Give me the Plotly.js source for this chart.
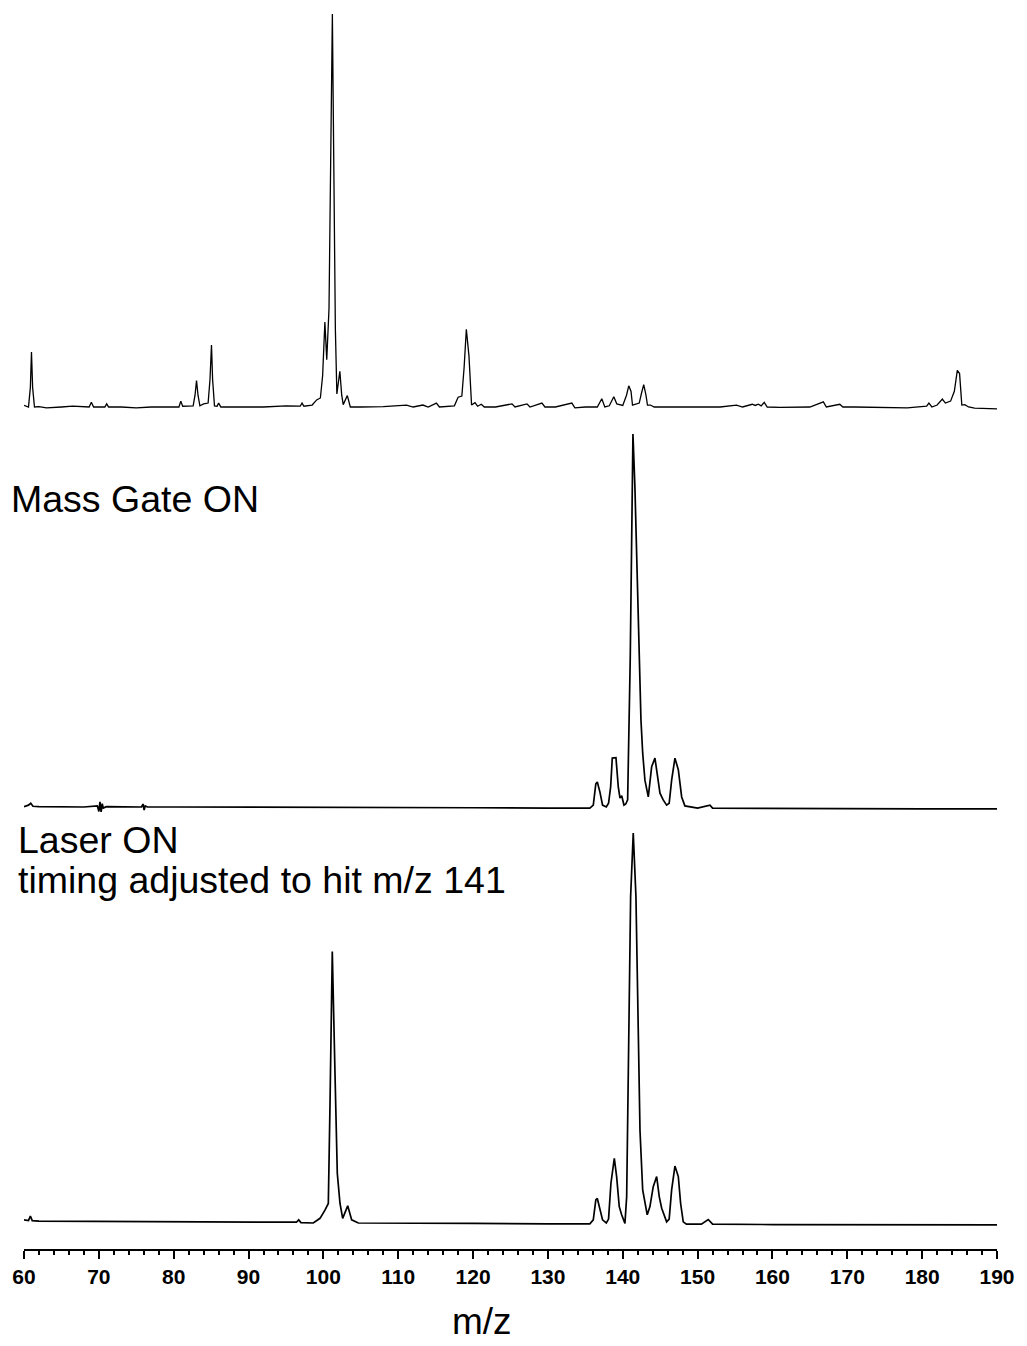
<!DOCTYPE html>
<html>
<head>
<meta charset="utf-8">
<script src="https://cdn.plot.ly/plotly-3.0.1.min.js"></script>
<style>
  html, body { margin: 0; padding: 0; background: #fff; }
  #chart { width: 1027px; height: 1346px; }
</style>
</head>
<body>
<div id="chart"></div>
<script>
// ---------------- DATA ----------------
// Spectrum 1 (top): no gate, relative intensity (m/z 101 = 100)
const topMz = [60.0, 60.6, 60.85, 61.0, 61.15, 61.4, 62.0, 63.0, 65.0, 66.5, 68.7, 69.0, 69.3, 70.8, 71.05, 71.3, 73.0, 75.0, 77.0, 79.0,
  80.7, 80.95, 81.2, 82.6, 82.85, 83.05, 83.25, 83.5, 84.0, 84.6, 84.85, 85.05, 85.2, 85.45, 85.8, 86.0, 86.3, 88.0, 92.0, 95.0,
  96.9, 97.15, 97.4, 98.5, 99.1, 99.6, 99.9, 100.2, 100.45, 100.75, 101.0, 101.2, 101.4, 101.6, 101.8, 102.2, 102.45, 102.65, 103.2, 103.6,
  105.0, 108.0, 111.1, 112.0, 113.3, 114.0, 115.1, 115.5, 117.5, 118.0, 118.5, 118.8, 119.1, 119.45, 119.8, 120.25, 120.6, 121.1, 121.5, 123.0,
  125.2, 125.6, 127.2, 127.6, 129.2, 129.6, 131.0, 133.2, 133.6, 135.0, 136.6, 137.2, 137.6, 138.2, 138.8, 139.2, 140.0, 140.5, 140.8, 141.1,
  141.3, 141.7, 142.2, 142.5, 142.8, 143.1, 143.3, 143.7, 144.2, 146.0, 150.0, 153.0, 155.2, 156.0, 157.3, 157.7, 158.1, 158.5, 158.9, 159.3,
  161.0, 163.0, 165.0, 166.8, 167.2, 169.0, 169.4, 171.0, 175.0, 178.0, 180.6, 180.9, 181.3, 182.0, 182.7, 183.1, 183.8, 184.3, 184.7, 185.0,
  185.3, 185.7, 186.2, 187.0, 190.0];
const topInt = [0.4, 0.0, 5.0, 14.0, 5.0, 0.0, 0.1, -0.2, 0.0, 0.2, 0.0, 1.2, 0.0, 0.0, 0.8, 0.0, 0.0, -0.2, 0.0, 0.0,
  0.0, 1.5, 0.2, 0.3, 3.0, 6.7, 3.0, 0.3, 0.8, 1.0, 7.0, 15.8, 7.0, 0.3, 0.2, 1.0, 0.0, 0.0, 0.0, 0.3,
  0.2, 1.0, 0.2, 0.5, 1.8, 2.3, 8.0, 21.6, 12.0, 25.0, 70.0, 100.0, 60.0, 20.0, 3.3, 9.1, 3.0, 0.6, 2.9, 0.0,
  0.0, 0.1, 0.5, 0.0, 0.5, 0.0, 1.0, 0.0, 0.3, 2.5, 2.8, 10.0, 19.8, 13.0, 0.5, 1.1, 0.2, 0.7, 0.0, 0.0,
  0.8, 0.0, 0.8, 0.0, 1.0, 0.0, 0.0, 1.0, -0.2, 0.0, 0.0, 2.1, 0.0, 0.3, 2.6, 0.8, 0.4, 3.0, 5.4, 4.0,
  0.5, 0.8, 1.0, 3.5, 5.7, 3.0, 0.5, 0.5, 0.0, 0.0, -0.1, 0.0, 0.5, 0.0, 0.7, 0.4, 0.7, 0.3, 1.2, 0.0,
  -0.1, 0.0, 0.0, 1.3, 0.0, 0.7, 0.0, 0.0, -0.2, -0.2, 0.2, 1.0, 0.0, 0.5, 2.0, 1.0, 1.5, 4.0, 9.3, 8.5,
  0.5, 0.6, 0.0, -0.3, -0.5];

// Spectrum 2 (middle): Mass Gate ON (m/z 141 = 100)
const gateMz = [60.0, 60.6, 60.9, 61.2, 62.0, 65.0, 68.0, 69.8, 70.0, 70.15, 70.3, 70.45, 70.6, 71.0, 73.0, 75.7, 75.9, 76.05, 76.2, 76.5,
  80.0, 90.0, 100.0, 110.0, 120.0, 130.0, 135.6, 136.06, 136.4, 136.6, 136.95, 137.3, 137.8, 138.1, 138.38, 138.6, 139.09, 139.4, 139.63, 139.86,
  140.16, 140.4, 140.65, 141.0, 141.2, 141.36, 141.62, 141.85, 142.1, 142.3, 142.43, 142.66, 142.96, 143.41, 143.86, 144.3, 144.6, 144.97, 145.4, 145.86,
  146.2, 146.53, 146.97, 147.42, 147.87, 148.3, 150.0, 151.65, 152.0, 160.0, 170.0, 180.0, 190.0];
const gateInt = [0.1, 0.5, 1.0, 0.2, 0.1, 0.0, 0.0, 0.3, -1.2, 1.4, -1.3, 0.9, -0.3, 0.1, 0.0, 0.0, 0.8, -0.8, 0.3, 0.0,
  0.0, 0.0, -0.1, -0.2, -0.2, -0.3, -0.3, 0.5, 6.2, 6.7, 4.0, 0.5, 0.0, 1.0, 5.4, 13.1, 13.2, 5.4, 2.4, 3.0,
  0.5, 0.8, 1.9, 40.0, 85.0, 100.0, 86.0, 68.0, 50.0, 39.4, 23.3, 14.5, 7.2, 2.7, 10.8, 13.1, 9.0, 3.7, 1.9, 0.5,
  1.0, 7.2, 13.1, 10.0, 2.7, 0.3, -0.3, 0.5, -0.3, -0.4, -0.4, -0.5, -0.5];

// Spectrum 3 (bottom): Laser ON, timing adjusted to hit m/z 141 (m/z 141 = 100)
const laserMz = [60.0, 60.6, 60.85, 61.1, 62.0, 70.0, 80.0, 90.0, 96.4, 96.7, 97.0, 98.65, 99.55, 100.21, 100.66, 100.88, 101.19, 101.55, 101.86, 102.22,
  102.58, 103.25, 103.78, 104.67, 110.0, 120.0, 130.0, 135.6, 136.06, 136.4, 136.6, 136.95, 137.3, 137.8, 138.1, 138.42, 138.6, 138.87, 139.18, 139.53,
  139.85, 140.29, 140.52, 140.74, 141.05, 141.4, 141.76, 142.07, 142.3, 142.66, 143.27, 143.63, 144.07, 144.53, 144.88, 145.2, 145.86, 146.2, 146.53, 146.97,
  147.42, 147.73, 148.08, 148.5, 150.5, 151.42, 152.0, 160.0, 170.0, 180.0, 190.0];
const laserInt = [0.8, 0.6, 1.8, 0.6, 0.5, 0.4, 0.3, 0.2, 0.2, 0.8, 0.1, 0.0, 1.2, 3.3, 5.0, 29.8, 69.6, 38.4, 12.7, 5.0,
  1.2, 4.4, 0.8, 0.0, -0.1, -0.1, -0.2, -0.2, 0.8, 5.9, 6.3, 3.3, 0.8, 0.0, 1.0, 10.2, 12.7, 16.6, 11.9, 4.2,
  2.1, -0.1, 6.7, 41.0, 83.7, 100.0, 83.7, 49.5, 23.8, 8.5, 2.1, 4.2, 9.3, 11.9, 6.7, 3.8, 0.3, 1.0, 8.5, 14.6,
  11.9, 5.0, 0.3, -0.3, -0.3, 0.9, -0.3, -0.4, -0.4, -0.5, -0.5];

const xTickVals = [60, 70, 80, 90, 100, 110, 120, 130, 140, 150, 160, 170, 180, 190];
const panelLabels = ["Mass Gate ON", "Laser ON", "timing adjusted to hit m/z 141"];
const xTitle = "m/z";

// ---------------- LAYOUT GEOMETRY (pixels) ----------------
const W = 1027, H = 1346;
const M = { l: 24, r: 30, t: 10, b: 96 };
const plotTop = M.t, plotBot = H - M.b, plotH = plotBot - plotTop;
const frac = p => (plotBot - p) / plotH;
// each panel: [domain bottom px, domain top px, baseline px, full-scale px]
function panel(pBot, pTop, pBase, pFull) {
  const s = (pBase - pFull) / 100;
  return { domain: [frac(pBot), frac(pTop)], range: [-(pBot - pBase) / s, (pBase - pTop) / s] };
}
const P1 = panel(420, 10, 407, 14);
const P2 = panel(820, 425, 807, 434);
const P3 = panel(1240, 825, 1223, 833);

const font = "Arial, 'Liberation Sans', Helvetica, sans-serif";
const lineCol = "#000000";

const traces = [
  { x: topMz, y: topInt, xaxis: "x", yaxis: "y", type: "scatter", mode: "lines",
    line: { color: lineCol, width: 1.3 }, hoverinfo: "skip", showlegend: false },
  { x: gateMz, y: gateInt, xaxis: "x", yaxis: "y2", type: "scatter", mode: "lines",
    line: { color: lineCol, width: 1.7 }, hoverinfo: "skip", showlegend: false },
  { x: laserMz, y: laserInt, xaxis: "x", yaxis: "y3", type: "scatter", mode: "lines",
    line: { color: lineCol, width: 1.7 }, hoverinfo: "skip", showlegend: false }
];

const yCommon = { visible: false, fixedrange: true, showgrid: false, zeroline: false };

const layout = {
  width: W, height: H,
  margin: M,
  paper_bgcolor: "#ffffff", plot_bgcolor: "#ffffff",
  showlegend: false,
  font: { family: font, color: "#000" },
  xaxis: {
    range: [60, 190], anchor: "free", position: 0,
    tickvals: xTickVals, ticktext: xTickVals.map(String),
    ticks: "outside", ticklen: 8, tickwidth: 2, tickcolor: "#000",
    minor: { dtick: 2, tick0: 60, ticks: "outside", ticklen: 4, tickwidth: 2, tickcolor: "#000", showgrid: false },
    showline: true, linewidth: 2, linecolor: "#000",
    showgrid: false, zeroline: false,
    tickfont: { family: font, size: 21, color: "#000", weight: "bold" },
    title: { text: "" }
  },
  yaxis: Object.assign({ domain: P1.domain, range: P1.range }, yCommon),
  yaxis2: Object.assign({ domain: P2.domain, range: P2.range, anchor: "x" }, yCommon),
  yaxis3: Object.assign({ domain: P3.domain, range: P3.range, anchor: "x" }, yCommon),
  annotations: [
    { text: panelLabels[0], xref: "paper", yref: "paper", x: (9 - M.l) / (W - M.l - M.r), y: frac(499),
      xanchor: "left", yanchor: "middle", showarrow: false, font: { family: font, size: 37.5, color: "#000" } },
    { text: panelLabels[1], xref: "paper", yref: "paper", x: (16 - M.l) / (W - M.l - M.r), y: frac(840),
      xanchor: "left", yanchor: "middle", showarrow: false, font: { family: font, size: 37.5, color: "#000" } },
    { text: panelLabels[2], xref: "paper", yref: "paper", x: (16 - M.l) / (W - M.l - M.r), y: frac(880),
      xanchor: "left", yanchor: "middle", showarrow: false, font: { family: font, size: 37.5, color: "#000" } },
    { text: xTitle, xref: "paper", yref: "paper", x: (481.5 - M.l) / (W - M.l - M.r), y: frac(1321),
      xanchor: "center", yanchor: "middle", showarrow: false, font: { family: font, size: 37, color: "#000" } }
  ]
};

Plotly.newPlot("chart", traces, layout, { staticPlot: true, displayModeBar: false });
</script>
</body>
</html>
